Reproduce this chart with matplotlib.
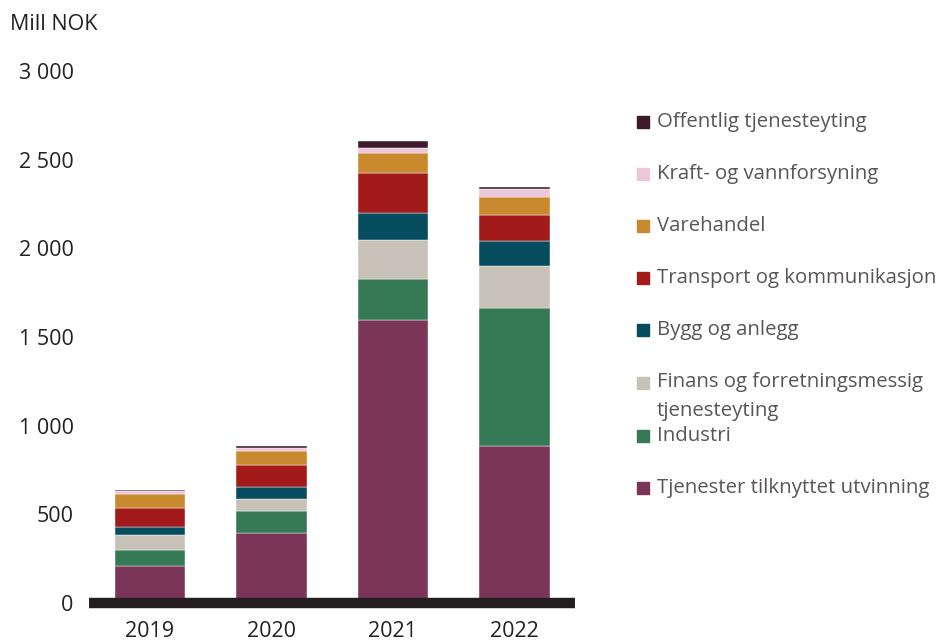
import numpy as np
import matplotlib.pyplot as plt
from matplotlib.patches import Rectangle
from matplotlib.ticker import FuncFormatter

years = ['2019', '2020', '2021', '2022']
series = ['Tjenester tilknyttet utvinning', 'Industri',
          'Finans og forretningsmessig\ntjenesteyting', 'Bygg og anlegg',
          'Transport og kommunikasjon', 'Varehandel',
          'Kraft- og vannforsyning', 'Offentlig tjenesteyting']
tjenester = [210, 393, 1594, 885]
industri = [87, 124, 231, 776]
finans = [88, 71, 220, 239]
bygg = [42, 64, 157, 142]
transport = [108, 124, 224, 145]
varehandel = [79, 79, 109, 102]
kraft = [20, 20, 28, 45]
offentlig = [5, 10, 43, 13]

values = [tjenester, industri, finans, bygg, transport, varehandel, kraft, offentlig]
colors = ['#7a3558', '#367a55', '#c8c1b8', '#044c5e',
          '#a31a1a', '#c8892f', '#ecc6d9', '#3f1a2d']

plt.rcParams['font.family'] = 'Open Sans'
fs = 15.5
fs_leg = 14.7

fig = plt.figure(figsize=(9.44, 6.43), dpi=100)
ax = fig.add_axes([0.0943, 0.0622, 0.515, 0.8274])

x = np.arange(len(years))
bottom = np.zeros(len(years))
for vals, col in zip(values, colors):
    ax.bar(x, vals, 0.58, bottom=bottom, color=col, edgecolor='white', linewidth=0.3)
    bottom += np.array(vals)

ax.axhline(0, color='#231f20', linewidth=7.5, clip_on=False, zorder=5,
           solid_capstyle='butt')
ax.set_xlim(-0.5, 3.5)
ax.set_ylim(0, 3000)
ax.set_yticks(range(0, 3001, 500))
ax.yaxis.set_major_formatter(FuncFormatter(lambda v, p: f'{int(v):,}'.replace(',', ' ')))
ax.set_xticks(x, years)
ax.tick_params(axis='y', length=0, pad=11, labelsize=fs, labelcolor='#222222')
ax.tick_params(axis='x', length=0, pad=13, labelsize=fs, labelcolor='#222222')
for s in ax.spines.values():
    s.set_visible(False)

fig.text(10 / 944, 1 - 25 / 643, 'Mill NOK', fontsize=fs, color='#222222', va='center')

# legend, drawn by hand so the wrapped label overlaps like the original
leg_y = [488, 436, 383, 330, 278, 226, 174, 122]
for name, col, yy in zip(series, colors, leg_y):
    fig.patches.append(Rectangle((637 / 944, 1 - (yy + 6) / 643), 12 / 944, 12 / 643,
                                 transform=fig.transFigure, color=col))
    if '\n' in name:
        fig.text(657 / 944, 1 - (yy - 11) / 643, name, fontsize=fs_leg, color='#5b5555',
                 va='top', linespacing=1.6)
    else:
        fig.text(657 / 944, 1 - yy / 643, name, fontsize=fs_leg, color='#5b5555',
                 va='center')

plt.savefig('out.png', dpi=100)
